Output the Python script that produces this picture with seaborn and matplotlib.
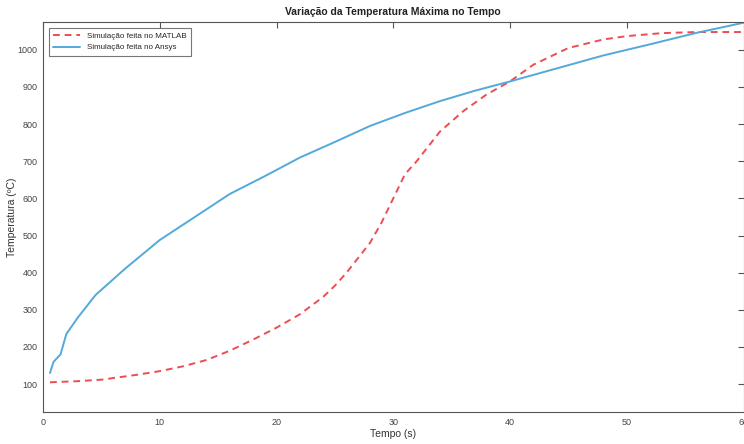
import numpy as np
import pandas as pd
import matplotlib
matplotlib.use("Agg")
import matplotlib.pyplot as plt
import seaborn as sns

# 曲線資料
t_matlab = [0.6, 3, 5, 8, 10, 12, 14, 16, 18, 20, 22, 24, 25, 26, 27, 28, 29, 30, 31,
            32, 34, 36, 38, 40, 42, 45, 48, 50, 53, 56, 58, 60]
temp_matlab = [105, 108, 112, 125, 135, 148, 165, 190, 220, 252, 288, 335, 365, 400, 440, 480,
               535, 600, 665, 700, 780, 835, 880, 915, 960, 1005, 1028, 1037, 1045, 1048, 1048, 1048]

t_ansys = [0.6, 0.9, 1.5, 2.0, 3, 4.5, 7, 10, 13, 16, 19, 22, 25, 28, 31, 34, 37, 40,
           44, 48, 52, 56, 60]
temp_ansys = [130, 160, 180, 235, 280, 340, 410, 488, 550, 612, 660, 710, 752, 795, 830, 862, 890, 915,
              950, 985, 1015, 1046, 1073]

df_matlab = pd.DataFrame({"Tempo": t_matlab, "Temp": temp_matlab})
df_ansys = pd.DataFrame({"Tempo": t_ansys, "Temp": temp_ansys})

sns.set_theme(style="white")
plt.rcParams['font.family'] = ['Liberation Sans', 'DejaVu Sans']

fig = plt.figure(figsize=(7.44, 4.44), dpi=100)
ax = fig.add_axes([43 / 744, 1 - 412 / 444, 700.5 / 744, 390 / 444])

sns.lineplot(data=df_matlab, x="Tempo", y="Temp", ax=ax, color="#ec4d52",
             linestyle=(0, (3.5, 2.5)), linewidth=1.4, label="Simulação feita no MATLAB")
sns.lineplot(data=df_ansys, x="Tempo", y="Temp", ax=ax, color="#52a9da",
             linewidth=1.4, label="Simulação feita no Ansys")

ax.set_xlim(0, 60)
ax.set_ylim(25, 1075)
ax.set_xticks([0, 10, 20, 30, 40, 50, 60])
ax.set_yticks(range(100, 1001, 100))
ax.tick_params(direction="in", length=4, width=0.8, colors="#555555", labelsize=6.5,
               top=True, right=True, labelcolor="#444444", pad=4)
for s in ax.spines.values():
    s.set_color("#555555")
    s.set_linewidth(0.8)

ax.set_xlabel("Tempo (s)", fontsize=7.5, color="#333333", labelpad=2)
ax.set_ylabel("Temperatura (ºC)", fontsize=7.5, color="#333333")
ax.yaxis.set_label_coords(-0.037, 0.5)
ax.set_title("Variação da Temperatura Máxima no Tempo", fontsize=7.5, fontweight="bold",
             color="#222222", pad=5)

leg = ax.legend(loc="upper left", fontsize=5.8, frameon=True, fancybox=False,
                borderpad=0.55, handlelength=3.4, labelspacing=0.5, borderaxespad=0.7)
leg.get_frame().set_edgecolor("#555555")
leg.get_frame().set_linewidth(0.8)

fig.savefig("out.png", dpi=100)
